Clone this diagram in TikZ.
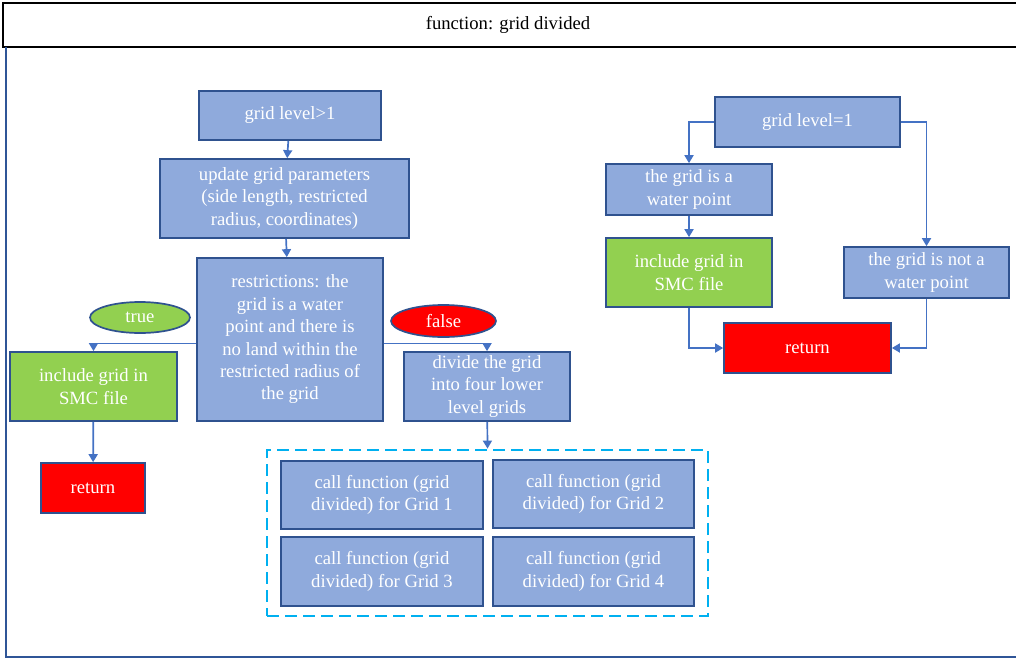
\documentclass[tikz,border=0pt]{standalone}
\usepackage{fontspec}
\setmainfont{Liberation Serif}
\usetikzlibrary{arrows.meta,shapes.geometric}
\definecolor{boxfill}{HTML}{8FAADC}
\definecolor{boxline}{HTML}{2F528F}
\definecolor{arrcol}{HTML}{4472C4}
\definecolor{greenfill}{HTML}{92D050}
\definecolor{redfill}{HTML}{FF0000}
\definecolor{dashcol}{HTML}{00B0F0}
\definecolor{framecol}{HTML}{2F5597}
\begin{document}
\begin{tikzpicture}[x=1pt,y=-1pt,
  txt/.style={font=\rmfamily\fontsize{18.67}{22.4}\selectfont},
  box/.style={txt,draw=boxline,fill=boxfill,line width=1.7pt,text=white,align=center,inner sep=0pt},
  greenbox/.style={box,fill=greenfill},
  redbox/.style={box,fill=redfill},
  oval/.style={txt,ellipse,draw=boxline,line width=1.7pt,text=white,inner sep=0pt},
  arr/.style={draw=arrcol,line width=1.7pt,-{Triangle[length=8pt,width=9pt]}},
  grpbox/.style={draw=dashcol,line width=2.8pt,dash pattern=on 12pt off 6pt,inner sep=0pt}]
\useasboundingbox (0,0) rectangle (1016,659);
% frame
\draw[black,line width=1.8pt] (3,3) rectangle (1030,47);
\node[txt,text=black] (title) at (508,25) {function: grid divided};
\draw[framecol,line width=2.2pt] (6,47) -- (6,657) -- (1030,657);
% left part
\node[box,minimum width=182,minimum height=49] (lvl) at (290,115.5) {grid level>1};
\node[box,minimum width=249,minimum height=79] (upd) at (284.5,198.5) {update grid parameters\\(side length, restricted\\radius, coordinates)};
\node[box,minimum width=186,minimum height=163] (res) at (290,339.5) {restrictions: the\\grid is a water\\point and there is\\no land within the\\restricted radius of\\the grid};
\node[oval,fill=greenfill,minimum width=100,minimum height=31] (tr) at (140,317.5) {true};
\node[oval,fill=redfill,minimum width=105,minimum height=32] (fa) at (443.5,321) {false};
\node[greenbox,minimum width=167,minimum height=69] (inc) at (93.5,386.5) {include grid in\\SMC file};
\node[box,minimum width=166,minimum height=69] (div) at (487,386.5) {divide the grid\\into four lower\\level grids};
\node[redbox,minimum width=104,minimum height=50] (ret) at (93,488) {return};
\node[grpbox,minimum width=441,minimum height=166] (grp) at (487.5,533) {};
\node[box,minimum width=202,minimum height=68] (g1) at (382,495) {call function (grid\\divided) for Grid 1};
\node[box,minimum width=201,minimum height=68] (g2) at (593.5,494) {call function (grid\\divided) for Grid 2};
\node[box,minimum width=202,minimum height=69] (g3) at (382,571.5) {call function (grid\\divided) for Grid 3};
\node[box,minimum width=201,minimum height=69] (g4) at (593.5,571.5) {call function (grid\\divided) for Grid 4};
\draw[arr] (lvl) -- (upd);
\draw[arr] (upd) -- (res);
\draw[arr] ([yshift=-4pt]res.west) -| (inc.north);
\draw[arr] ([yshift=-4pt]res.east) -| (div.north);
\draw[arr] (inc) -- (ret);
\draw[arr] (div) -- (grp.north);
% right part
\node[box,minimum width=185,minimum height=50] (lvl1) at (807.5,122) {grid level=1};
\node[box,minimum width=166,minimum height=51] (wat) at (689,189.5) {the grid is a\\water point};
\node[greenbox,minimum width=166,minimum height=69] (inc2) at (689,272.5) {include grid in\\SMC file};
\node[box,minimum width=165,minimum height=51] (nwat) at (926.5,272.5) {the grid is not a\\water point};
\node[redbox,minimum width=167,minimum height=50] (ret2) at (807.5,348) {return};
\draw[arr] (lvl1.west) -| (wat.north);
\draw[arr] (lvl1.east) -| (nwat.north);
\draw[arr] (wat) -- (inc2);
\draw[arr] (inc2.south) |- (ret2.west);
\draw[arr] (nwat.south) |- (ret2.east);
\end{tikzpicture}
\end{document}
